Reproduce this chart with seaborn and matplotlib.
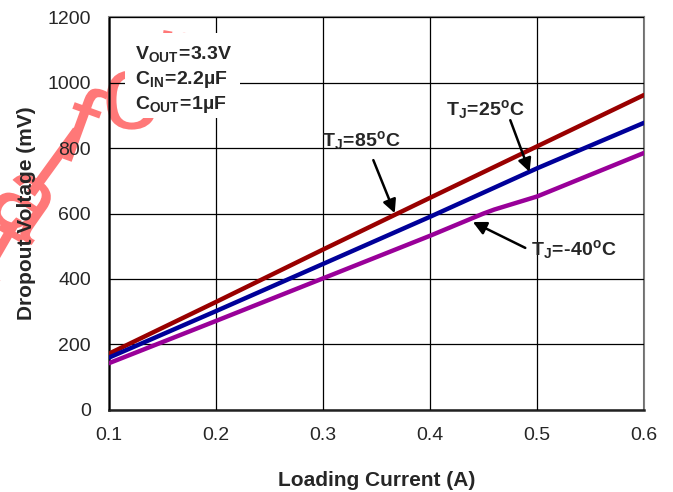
import matplotlib
matplotlib.use("Agg")
import matplotlib.pyplot as plt
import seaborn as sns
import pandas as pd
from matplotlib.textpath import TextPath
from matplotlib.patches import PathPatch, Rectangle
from matplotlib.font_manager import FontProperties
from matplotlib.transforms import Affine2D

# values
current_85 = [0.1, 0.2, 0.3, 0.4, 0.5, 0.6]
dropout_85 = [172, 330, 490, 648, 805, 962]

current_25 = [0.1, 0.2, 0.3, 0.4, 0.5, 0.6]
dropout_25 = [160, 302, 446, 590, 738, 877]

current_m40 = [0.1, 0.2, 0.3, 0.4, 0.45, 0.46, 0.5, 0.6]
dropout_m40 = [143, 272, 402, 532, 600, 612, 652, 785]

x_ticks = [0.1, 0.2, 0.3, 0.4, 0.5, 0.6]
y_ticks = [0, 200, 400, 600, 800, 1000, 1200]

# watermark glyphs: char, centre in pixels from top-left, rotation
wm_chars = ["t", "a", "l", "f", "o", "r"]
wm_pos = [(2, 250), (25, 206), (54, 162), (82, 124), (132, 100), (172, 60)]
wm_rot = [-30, -35, -36, -20, 0, -10]

df = pd.concat([
    pd.DataFrame({"I": current_85, "V": dropout_85, "T": "85"}),
    pd.DataFrame({"I": current_25, "V": dropout_25, "T": "25"}),
    pd.DataFrame({"I": current_m40, "V": dropout_m40, "T": "-40"}),
])

sns.set_style("white")
plt.rcParams["font.family"] = ["Liberation Sans", "DejaVu Sans"]
plt.rcParams["mathtext.fontset"] = "custom"
plt.rcParams["mathtext.rm"] = "Liberation Sans"
plt.rcParams["mathtext.bf"] = "Liberation Sans:bold"

W, H = 673, 492
fig = plt.figure(figsize=(W / 100, H / 100), dpi=100)
ax = fig.add_axes([0.162, 0.1667, 0.795, 0.7987])
ax.set_facecolor("none")
ax.set_axisbelow(False)

sns.lineplot(data=df, x="I", y="V", hue="T", ax=ax, legend=False,
             palette={"85": "#990000", "25": "#000099", "-40": "#990099"},
             linewidth=3.2, estimator=None, sort=False, zorder=3)

# watermark under everything else
fp = FontProperties(family="Liberation Sans")
for ch, (px, py), rot in zip(wm_chars, wm_pos, wm_rot):
    tp = TextPath((0, 0), ch, size=108, prop=fp)
    ext = tp.get_extents()
    tr = (Affine2D().translate(-(ext.x0 + ext.x1) / 2, -(ext.y0 + ext.y1) / 2)
          .rotate_deg(rot).translate(px, H - py))
    ax.add_patch(PathPatch(tp, transform=tr, facecolor="#ff7878",
                           edgecolor="none", zorder=0.3, clip_on=False))

# white box behind the test conditions (covers the grid)
ax.add_patch(Rectangle((0.1145, 892), 0.1075, 260, facecolor="white",
                       edgecolor="none", zorder=2.6, clip_on=False))

ax.set_xlim(0.1, 0.6)
ax.set_ylim(0, 1200)
ax.set_xticks(x_ticks)
ax.set_yticks(y_ticks)
ax.set_xticklabels([f"{t:.1f}" for t in x_ticks])
ax.grid(True, color="black", linewidth=0.9)
ax.tick_params(length=0, labelsize=14)
ax.tick_params(axis="x", pad=12)
ax.tick_params(axis="y", pad=13)
for s in ["left", "bottom"]:
    ax.spines[s].set_color("#222222")
    ax.spines[s].set_linewidth(1.8)
for s in ["top", "right"]:
    ax.spines[s].set_color("#808080")
    ax.spines[s].set_linewidth(1.5)

ax.set_xlabel("Loading Current (A)", fontsize=15, fontweight="bold", labelpad=20)
ax.set_ylabel("Dropout Voltage (mV)", fontsize=15, fontweight="bold", labelpad=8)

# test conditions
ax.text(0.124, 1117,
        "$\\mathbf{V_{OUT}\\!=\\!3.3V}$\n$\\mathbf{C_{IN}\\!=\\!2.2µF}$\n$\\mathbf{C_{OUT}\\!=\\!1µF}$",
        fontsize=14, va="top", ha="left", linespacing=1.3, zorder=5)

arrow = dict(arrowstyle="-|>", color="black", lw=1.8, mutation_scale=20,
             shrinkA=0, shrinkB=0)
ax.annotate("", xy=(0.367, 601), xytext=(0.347, 763), arrowprops=arrow, zorder=4)
ax.annotate("", xy=(0.493, 727), xytext=(0.475, 885), arrowprops=arrow, zorder=4)
ax.annotate("", xy=(0.440, 574), xytext=(0.489, 495), arrowprops=arrow, zorder=4)

ax.text(0.336, 824, "$\\mathbf{T_J\\!=\\!85^oC}$", fontsize=14, ha="center", va="center", zorder=5)
ax.text(0.452, 919, "$\\mathbf{T_J\\!=\\!25^oC}$", fontsize=14, ha="center", va="center", zorder=5)
ax.text(0.534, 489, "$\\mathbf{T_J\\!=\\!\u201040^oC}$", fontsize=14, ha="center", va="center", zorder=5)

fig.savefig("out.png", dpi=100)
